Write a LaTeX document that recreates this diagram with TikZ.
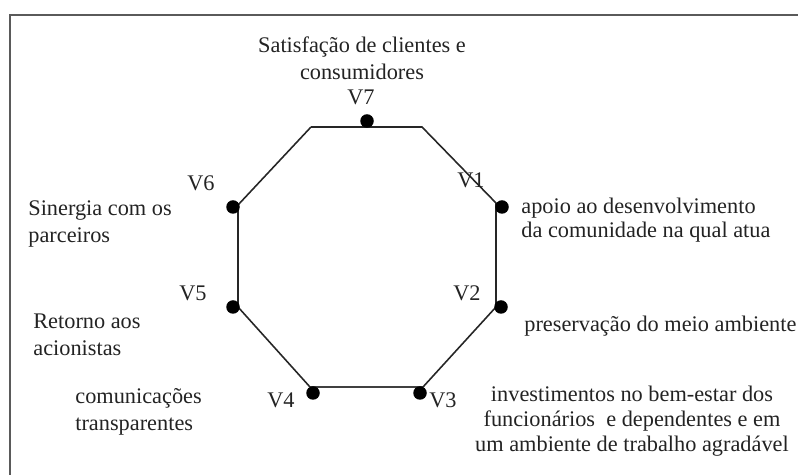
\documentclass[tikz,border=0pt]{standalone}
\usepackage{fontspec}
\setmainfont{Liberation Serif}
\usetikzlibrary{positioning}
\definecolor{cT}{RGB}{35,35,35}
\definecolor{cF}{RGB}{90,90,90}

\tikzset{
    dot/.style={circle, fill=black, inner sep=0pt, minimum size=0.27cm},
    vname/.style={inner sep=0pt, text=cT, font=\fontsize{12.7}{15.3}\selectfont},
    valtext/.style={inner sep=0pt, text=cT, font=\fontsize{12.7}{15.3}\selectfont},
}

\begin{document}
\begin{tikzpicture}[>=latex]
    \useasboundingbox (0,0) rectangle (15.96,9.5);

    % --- Frame (top and left rails) ---
    \coordinate (fb) at (0.2,0);
    \coordinate (fc) at (0.2,9.2);
    \coordinate (fr) at (15.96,9.2);
    \draw[line width=1.2pt, cF] (fb) -- (fc) -- (fr);

    % --- Octagon corners ---
    % \x, \y, \name
    \foreach \x/\y/\name in {
        6.22/6.96/A,
        8.44/6.96/B,
        9.92/5.44/C,
        9.92/3.36/D,
        8.46/1.76/E,
        6.20/1.76/F,
        4.76/3.36/G,
        4.76/5.40/H%
    } {
        \coordinate (\name) at (\x,\y);
    }
    \draw[line width=0.9pt, black!85] (A) -- (B) -- (C) -- (D) -- (E);
    \draw[line width=1.3pt, black!75] (E) -- (F); % bottom edge
    \draw[line width=0.9pt, black!85] (F) -- (G) -- (H) -- (A);

    % --- Value dots and their names ---
    % \x, \y, \name, \lx, \ly, \txt
    \foreach \x/\y/\name/\lx/\ly/\txt in {
        10.04/5.36/v1/9.42/5.90/V1,
        10.02/3.36/v2/9.34/3.64/V2,
        8.40/1.64/v3/8.86/1.50/V3,
        6.26/1.64/v4/5.62/1.50/V4,
        4.66/3.36/v5/3.86/3.64/V5,
        4.66/5.36/v6/4.02/5.84/V6,
        7.34/7.08/v7/7.22/7.56/V7%
    } {
        \node[dot] (\name) at (\x,\y) {};
        \node[vname] (l\name) at (\lx,\ly) {\txt};
    }

    % --- Values ---
    \node[valtext, align=center] (t7) at (7.24,8.34)
        {Satisfação de clientes e\\consumidores};
    \node[valtext, anchor=west, align=left,
          font=\fontsize{12.7}{15.9}\selectfont] (t6) at (0.56,5.02)
        {Sinergia com os\\parceiros};
    \node[valtext, anchor=west, align=left] (t5) at (0.66,2.80)
        {Retorno aos\\acionistas};
    \node[valtext, anchor=west, align=left] (t4) at (1.50,1.27)
        {comunicações\\transparentes};
    \node[valtext, anchor=west, align=left,
          font=\fontsize{12.7}{13.6}\selectfont] (t1) at (10.42,5.10)
        {apoio ao desenvolvimento\\da comunidade na qual atua};
    \node[valtext, anchor=west] (t2) at (10.48,2.98)
        {preservação do meio ambiente};
    \node[valtext, align=center,
          font=\fontsize{12.7}{14.2}\selectfont] (t3) at (12.64,1.08)
        {investimentos no bem-estar dos\\funcionários~ e dependentes e em\\um ambiente de trabalho agradável};

\end{tikzpicture}
\end{document}
